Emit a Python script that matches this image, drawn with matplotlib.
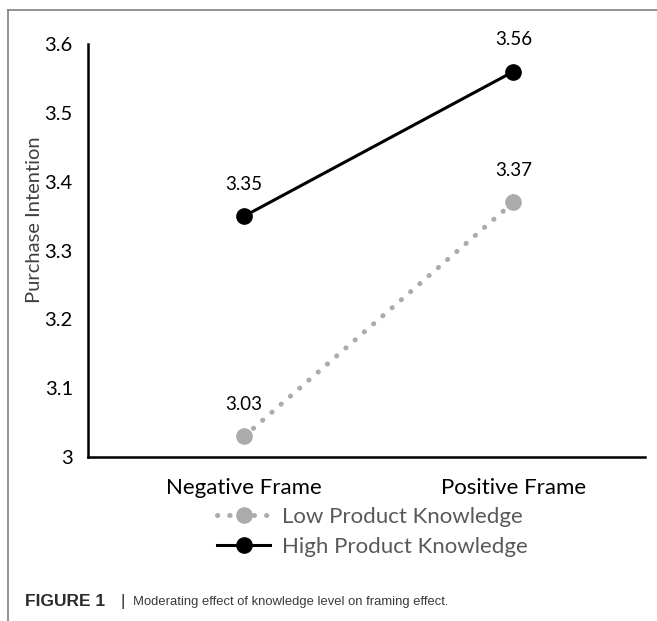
import matplotlib.pyplot as plt
from matplotlib.lines import Line2D

frames = ['Negative Frame', 'Positive Frame']
low_knowledge = [3.03, 3.37]
high_knowledge = [3.35, 3.56]
y_ticks = [3.0, 3.1, 3.2, 3.3, 3.4, 3.5, 3.6]
y_tick_labels = ['3', '3.1', '3.2', '3.3', '3.4', '3.5', '3.6']

font = 'Lato'
gray = '#ababab'

fig = plt.figure(figsize=(6.57, 6.21), dpi=100)
ax = fig.add_axes([0.134, 0.264, 0.848, 0.665])

x = list(range(len(frames)))
ax.plot(x, low_knowledge, color=gray, lw=3.6, linestyle=(0, (0.05, 2.4)),
        dash_capstyle='round', marker='o', markersize=11, label='Low Product Knowledge')
ax.plot(x, high_knowledge, color='black', lw=2.2, marker='o', markersize=11,
        label='High Product Knowledge')

for xi, v in zip(x, low_knowledge):
    ax.annotate(f'{v:.2f}', (xi, v), xytext=(0, 17), textcoords='offset points',
                ha='center', va='bottom', fontsize=13.5, family=font)
for xi, v in zip(x, high_knowledge):
    ax.annotate(f'{v:.2f}', (xi, v), xytext=(0, 17), textcoords='offset points',
                ha='center', va='bottom', fontsize=13.5, family=font)

ax.set_xlim(-0.58, 1.49)
ax.set_ylim(3.0, 3.6)
ax.set_xticks(x)
ax.set_xticklabels(frames, fontsize=16, family=font)
ax.set_yticks(y_ticks)
ax.set_yticklabels(y_tick_labels, fontsize=14.5, family=font)
ax.tick_params(axis='y', length=0, pad=11)
ax.tick_params(axis='x', length=0, pad=15)
ax.set_ylabel('Purchase Intention', fontsize=14.5, family=font, color='#404040')
ax.yaxis.set_label_coords(-0.081, 0.574)

for s in ['top', 'right']:
    ax.spines[s].set_visible(False)
for s in ['left', 'bottom']:
    ax.spines[s].set_linewidth(1.8)
    ax.spines[s].set_color('black')

leg = ax.legend(loc='upper center', bbox_to_anchor=(0.51, -0.093), frameon=False,
                prop={'family': font, 'size': 16}, handlelength=2.4,
                labelspacing=0.45, handletextpad=0.5, borderpad=0)
for t in leg.get_texts():
    t.set_color('#595959')

# figure border and caption
fig.add_artist(Line2D([0.012, 1.0], [0.984, 0.984], color='#808080', lw=1.2))
fig.add_artist(Line2D([0.012, 0.012], [0.0, 0.984], color='#808080', lw=1.2))
fig.text(0.038, 0.031, 'FIGURE 1', fontsize=12.5, fontweight='bold',
         family='Liberation Sans', color='#2b2b2b', va='center')
fig.text(0.183, 0.031, '|', fontsize=12, family='Liberation Sans',
         color='#2b2b2b', va='center')
fig.text(0.202, 0.031, 'Moderating effect of knowledge level on framing effect.',
         fontsize=9.4, family='Liberation Sans', color='#3a3a3a', va='center')

fig.savefig('out.png', dpi=100)
